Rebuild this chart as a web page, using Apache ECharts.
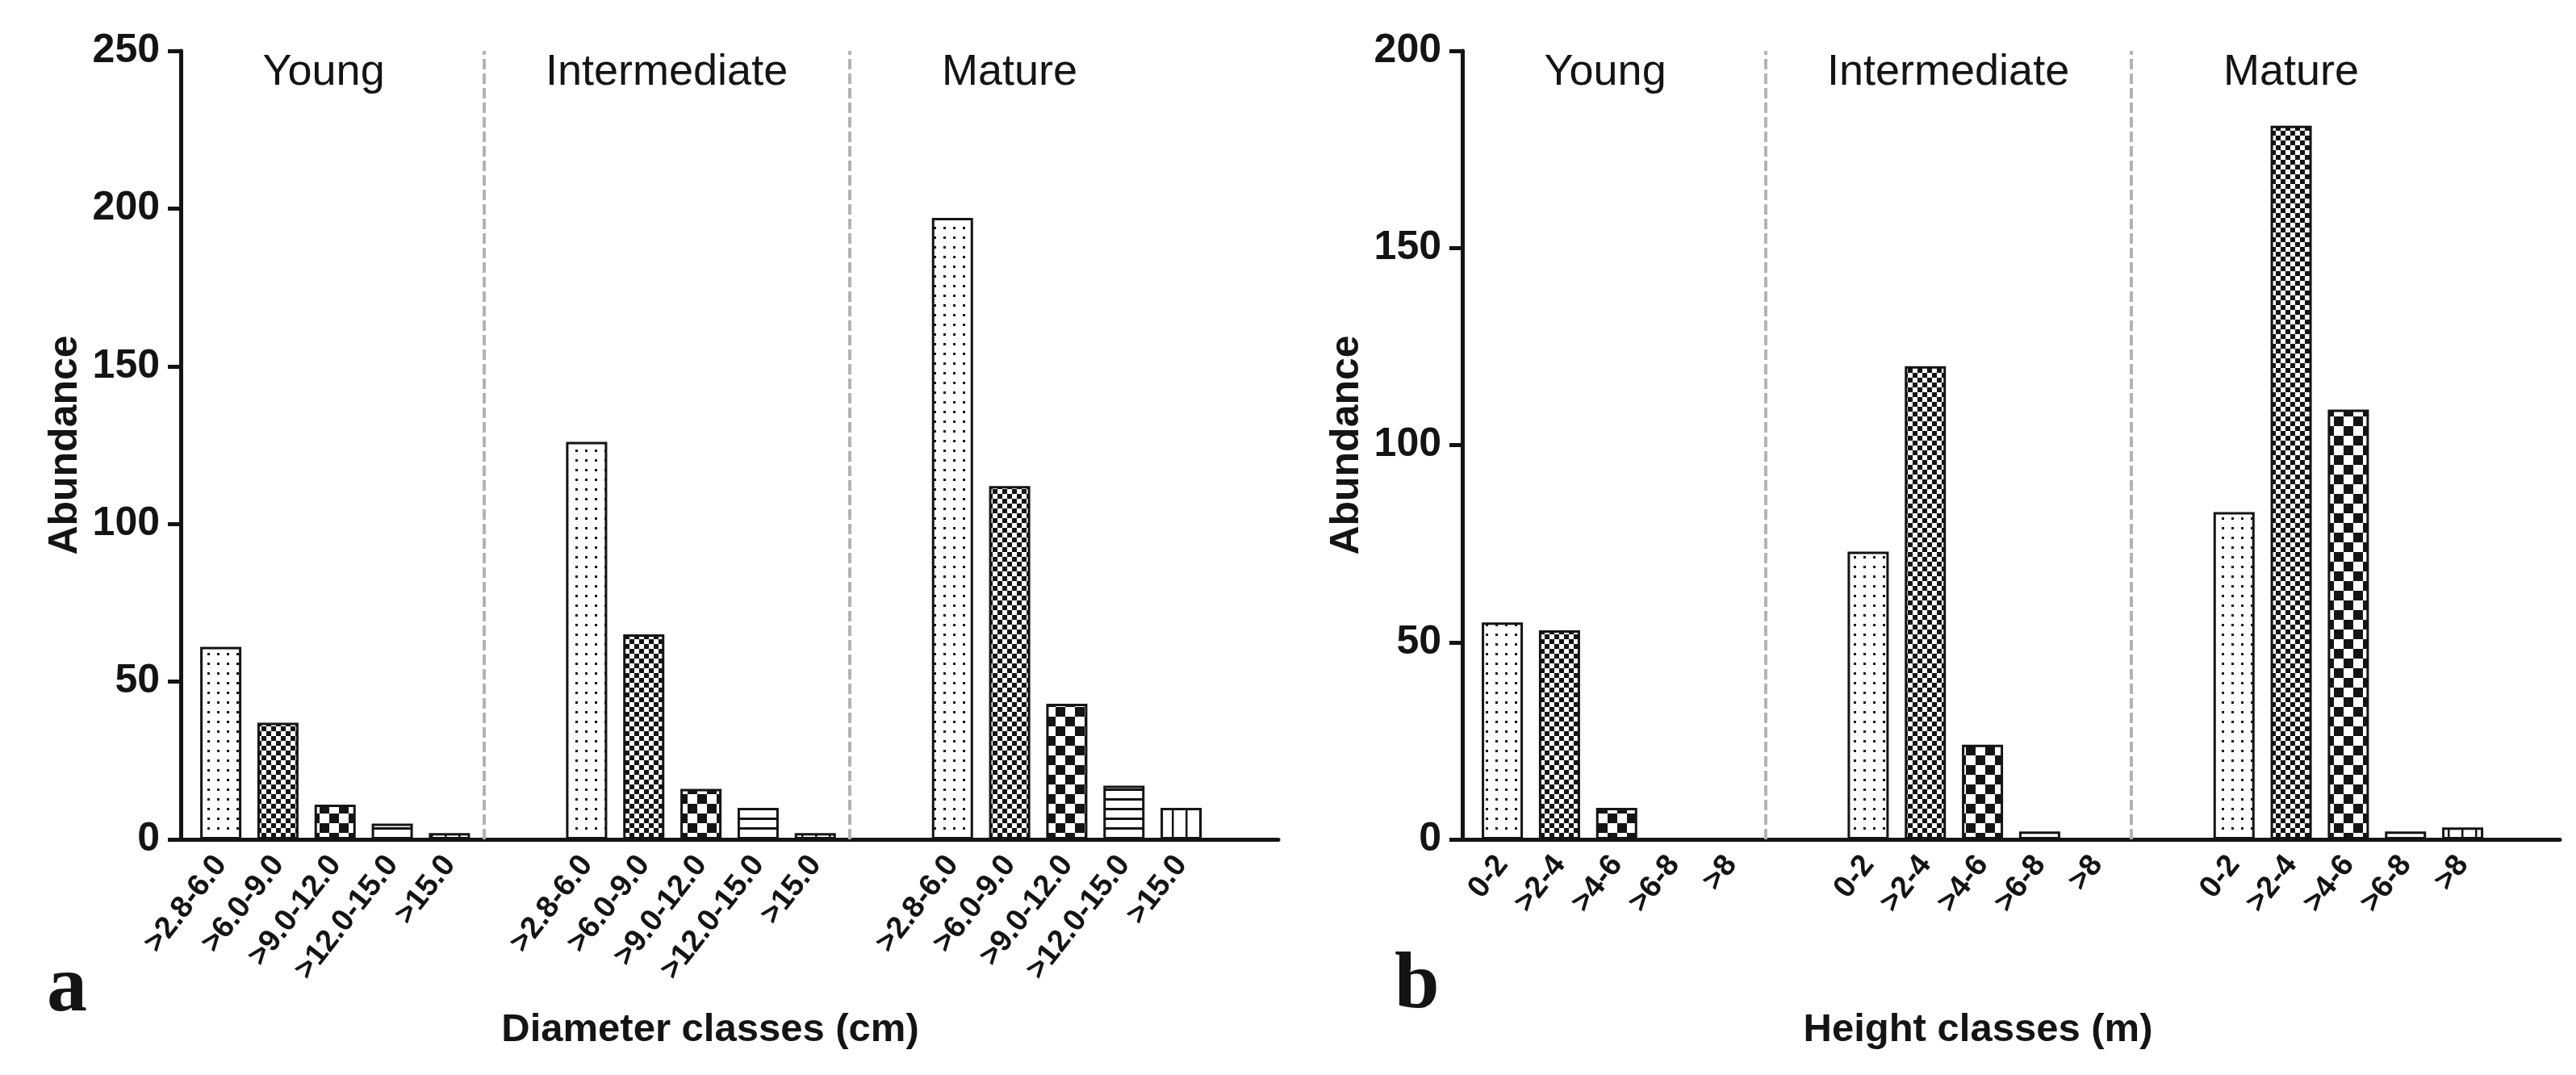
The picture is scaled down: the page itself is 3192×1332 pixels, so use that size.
<!DOCTYPE html>
<html><head><meta charset="utf-8">
<script src="https://cdn.jsdelivr.net/npm/echarts@6/dist/echarts.min.js"></script>
<style>html,body{margin:0;padding:0;background:#fff}#c{width:3192px;height:1332px}</style>
</head><body><div id="c"></div><script>
// ---- data ----
const stages = ['Young', 'Intermediate', 'Mature'];
const diameterClasses = ['>2.8-6.0', '>6.0-9.0', '>9.0-12.0', '>12.0-15.0', '>15.0'];
const heightClasses = ['0-2', '>2-4', '>4-6', '>6-8', '>8'];
const diameterYoung = [61, 37, 11, 5, 2];
const diameterIntermediate = [126, 65, 16, 10, 2];
const diameterMature = [197, 112, 43, 17, 10];
const heightYoung = [55, 53, 8, 0, 0];
const heightIntermediate = [73, 120, 24, 2, 0];
const heightMature = [83, 181, 109, 2, 3];
const diameterTicks = [0, 50, 100, 150, 200, 250];
const heightTicks = [0, 50, 100, 150, 200];

// ---- layout (category slots) ----
const LAYOUT = { slots: 96, groupStart: [3, 35, 67], step: 5, separators: [26, 58], titleSlot: [12, 42, 72] };
const FONT = 'Liberation Sans, Arial, sans-serif';
const INK = '#141414';

function makePattern(kind) {
  const c = document.createElement('canvas');
  const ctx = c.getContext('2d');
  if (kind === 'dots') {
    c.width = 12; c.height = 12;
    ctx.fillStyle = '#fff'; ctx.fillRect(0, 0, 12, 12);
    ctx.fillStyle = INK; ctx.fillRect(5, 5, 3, 3);
  } else if (kind === 'fine') {
    c.width = 12; c.height = 12;
    ctx.fillStyle = '#fff'; ctx.fillRect(0, 0, 12, 12);
    ctx.fillStyle = INK; ctx.fillRect(0, 0, 6, 6); ctx.fillRect(6, 6, 6, 6);
  } else if (kind === 'big') {
    c.width = 24; c.height = 24;
    ctx.fillStyle = '#fff'; ctx.fillRect(0, 0, 24, 24);
    ctx.fillStyle = INK; ctx.fillRect(0, 0, 12, 12); ctx.fillRect(12, 12, 12, 12);
  } else if (kind === 'hlines') {
    c.width = 12; c.height = 12;
    ctx.fillStyle = '#fff'; ctx.fillRect(0, 0, 12, 12);
    ctx.fillStyle = INK; ctx.fillRect(0, 5, 12, 3);
  } else {
    c.width = 17; c.height = 17;
    ctx.fillStyle = '#fff'; ctx.fillRect(0, 0, 17, 17);
    ctx.fillStyle = INK; ctx.fillRect(7, 0, 2.5, 17);
  }
  return { image: c, repeat: 'repeat' };
}
const patterns = ['dots', 'fine', 'big', 'hlines', 'vlines'].map(makePattern);

function slotLabels(classes) {
  const a = new Array(LAYOUT.slots).fill('');
  stages.forEach((s, g) => classes.forEach((c, k) => { a[LAYOUT.groupStart[g] + k * LAYOUT.step] = c; }));
  return a;
}
function slotData(groups) {
  const a = new Array(LAYOUT.slots).fill('-');
  groups.forEach((vals, g) => vals.forEach((v, k) => {
    a[LAYOUT.groupStart[g] + k * LAYOUT.step] = { value: v, itemStyle: { color: patterns[k] } };
  }));
  return a;
}

function xAxisFor(gridIndex, classes, name, pad) {
  return {
    type: 'category', gridIndex, data: slotLabels(classes), boundaryGap: true,
    axisLine: { show: true, onZero: false, lineStyle: { color: INK, width: 5 } },
    axisTick: { show: false },
    axisLabel: { interval: 0, rotate: 52, margin: 25, padding: [42, 0, 0, 0], hideOverlap: false, color: INK, fontFamily: FONT, fontWeight: 'bold', fontSize: 38 },
    splitLine: { show: false },
    name, nameLocation: 'middle', nameGap: 212, nameMoveOverlap: false,
    nameTextStyle: { color: INK, fontFamily: FONT, fontWeight: 'bold', fontSize: 49, padding: [0, pad, 0, 0] }
  };
}
function yAxisFor(gridIndex, ticks) {
  return {
    type: 'value', gridIndex, min: ticks[0], max: ticks[ticks.length - 1], interval: ticks[1] - ticks[0],
    axisLine: { show: true, lineStyle: { color: INK, width: 5 } },
    axisTick: { show: true, length: 16, lineStyle: { color: INK, width: 5 } },
    axisLabel: { margin: 26, color: INK, fontFamily: FONT, fontWeight: 'bold', fontSize: 50 },
    splitLine: { show: false },
    name: 'Abundance', nameLocation: 'middle', nameGap: 118, nameRotate: 90, nameMoveOverlap: false,
    nameTextStyle: { color: INK, fontFamily: FONT, fontWeight: 'bold', fontSize: 50 }
  };
}
function seriesFor(idx, groups, yMax) {
  return {
    type: 'bar', xAxisIndex: idx, yAxisIndex: idx, data: slotData(groups),
    barWidth: 51, itemStyle: { borderColor: INK, borderWidth: 3 },
    markLine: {
      silent: true, symbol: 'none', label: { show: false },
      lineStyle: { color: '#b3b3b3', width: 4, type: [13, 5] },
      data: LAYOUT.separators.map(s => ({ xAxis: s }))
    },
    markPoint: {
      silent: true, symbol: 'circle', symbolSize: 1, itemStyle: { color: 'rgba(0,0,0,0)' },
      label: { show: true, position: 'inside', formatter: '{b}', color: INK, fontFamily: FONT, fontSize: 54 },
      data: stages.map((s, g) => ({ name: s, coord: [LAYOUT.titleSlot[g], yMax * 0.972] }))
    }
  };
}

const chart = echarts.init(document.getElementById('c'), null, { renderer: 'canvas' });
chart.setOption({
  animation: false,
  backgroundColor: '#fff',
  grid: [
    { left: 224, right: 1608, top: 63, bottom: 292, containLabel: false, outerBoundsMode: 'none' },
    { left: 1812, right: 20, top: 63, bottom: 292, containLabel: false, outerBoundsMode: 'none' }
  ],
  xAxis: [
    xAxisFor(0, diameterClasses, 'Diameter classes (cm)', 48),
    xAxisFor(1, heightClasses, 'Height classes (m)', 82)
  ],
  yAxis: [yAxisFor(0, diameterTicks), yAxisFor(1, heightTicks)],
  series: [
    seriesFor(0, [diameterYoung, diameterIntermediate, diameterMature], diameterTicks[diameterTicks.length - 1]),
    seriesFor(1, [heightYoung, heightIntermediate, heightMature], heightTicks[heightTicks.length - 1])
  ],
  graphic: [
    { type: 'text', left: 58, top: 1176, style: { text: 'a', fontFamily: 'Liberation Serif, serif', fontWeight: 'bold', fontSize: 100, fill: INK } },
    { type: 'text', left: 1728, top: 1172, style: { text: 'b', fontFamily: 'Liberation Serif, serif', fontWeight: 'bold', fontSize: 100, fill: INK } }
  ]
});
</script></body></html>
